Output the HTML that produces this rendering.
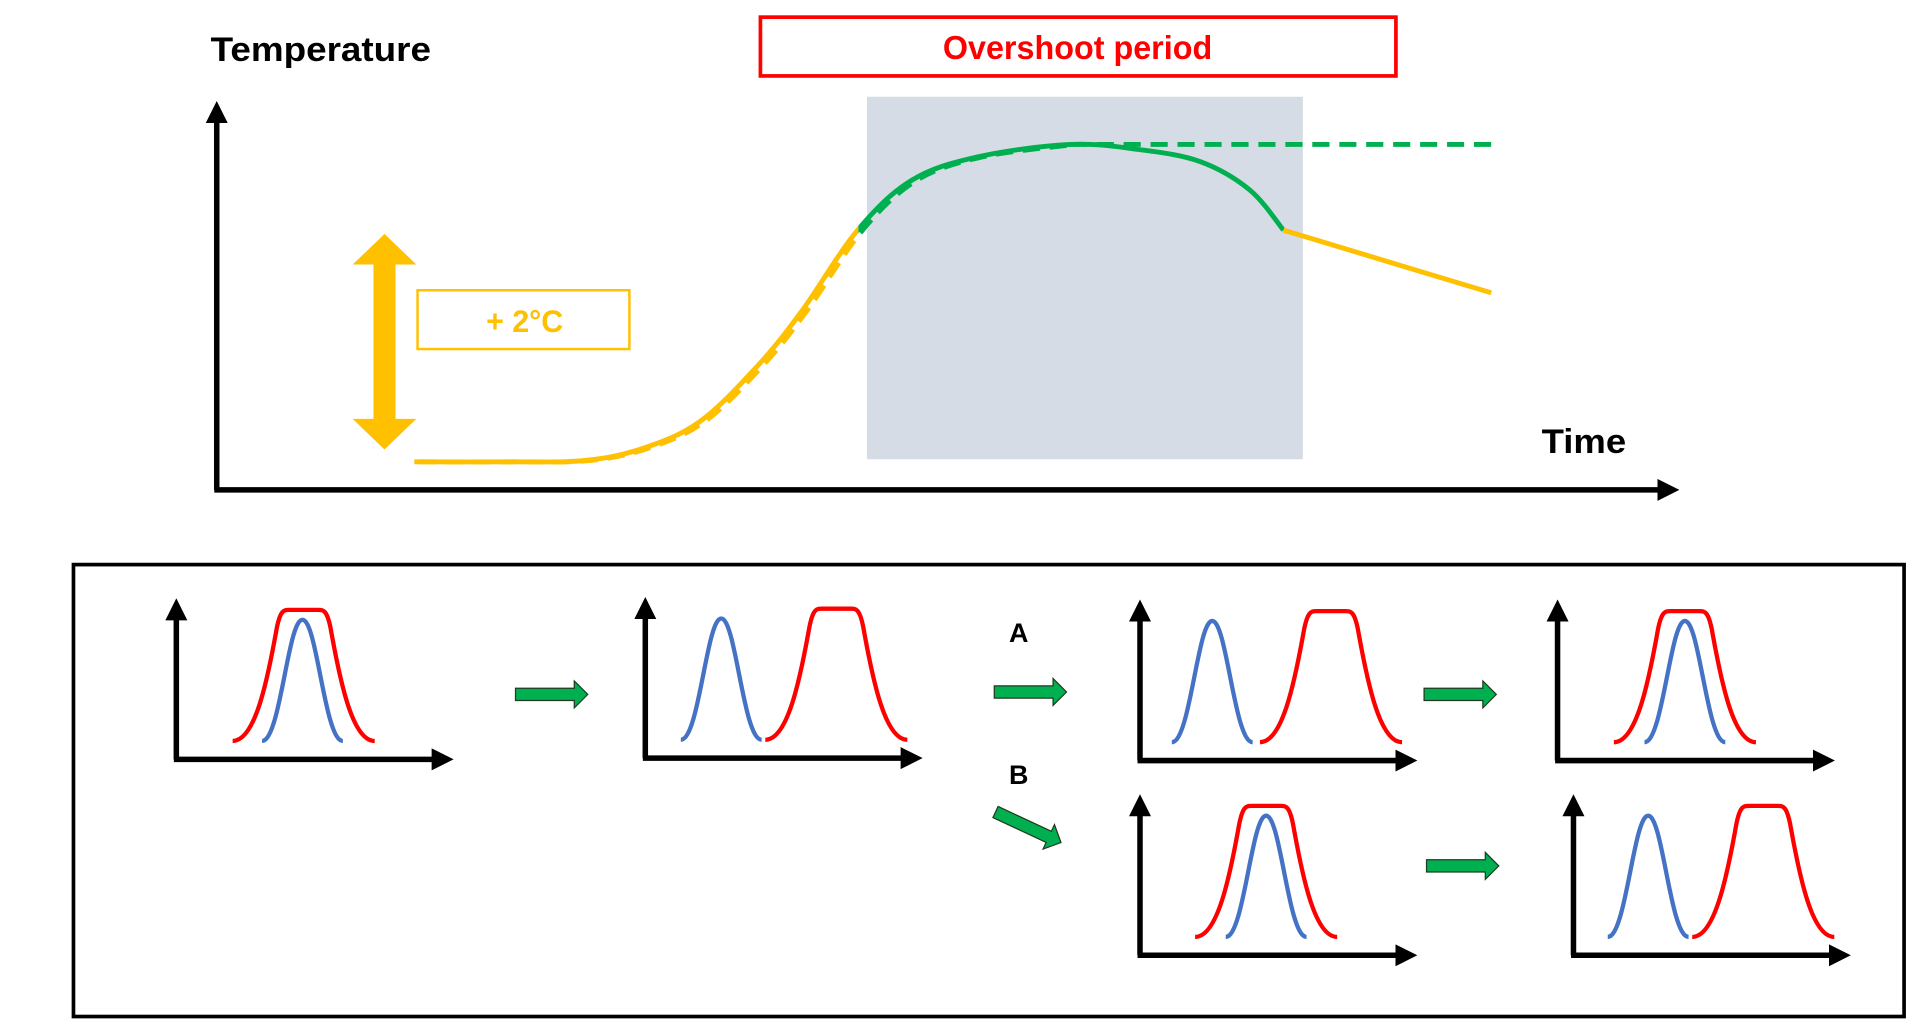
<!DOCTYPE html>
<html><head><meta charset="utf-8">
<style>
html,body{margin:0;padding:0;background:#fff;}
svg{display:block;}
text{font-family:"Liberation Sans",sans-serif;font-weight:bold;}
</style></head>
<body>
<svg id="fig" width="1920" height="1030" viewBox="0 0 1568 841" preserveAspectRatio="none" xmlns="http://www.w3.org/2000/svg">
  <defs>
    <marker id="ah" markerWidth="4" markerHeight="4" refX="1" refY="2" orient="auto" markerUnits="strokeWidth">
      <path d="M0,0 L4,2 L0,4 Z" fill="#000"/>
    </marker>
    <clipPath id="clipL"><rect x="0" y="0" width="701" height="841"/></clipPath>
    <clipPath id="clipR"><rect x="701" y="0" width="900" height="841"/></clipPath>
  </defs>
  <text x="172" y="50" font-size="28" fill="#000" textLength="180" lengthAdjust="spacingAndGlyphs">Temperature</text>
  <rect x="621" y="14" width="519" height="48" fill="#fff" stroke="#ff0000" stroke-width="3"/>
  <text x="770" y="48" font-size="27" fill="#ff0000" textLength="220" lengthAdjust="spacingAndGlyphs">Overshoot period</text>
  <rect x="708" y="79" width="356" height="296" fill="#d6dce5"/>
  <line x1="177" y1="400" x2="177" y2="96" stroke="#000" stroke-width="4.5" marker-end="url(#ah)"/>
  <line x1="175" y1="400" x2="1358" y2="400" stroke="#000" stroke-width="4.5" marker-end="url(#ah)"/>
  <text x="1259" y="370" font-size="28" fill="#000" textLength="69" lengthAdjust="spacingAndGlyphs">Time</text>
  <path d="M314,191 L340,216 L323,216 L323,342 L340,342 L314,367 L288,342 L305,342 L305,216 L288,216 Z" fill="#ffc000"/>
  <rect x="341" y="237" width="173" height="48" fill="#fff" stroke="#ffc000" stroke-width="2"/>
  <text x="397" y="271" font-size="26" fill="#ffc000" textLength="63" lengthAdjust="spacingAndGlyphs">+ 2°C</text>
  <g id="series"></g>
  <rect x="60" y="461" width="1495" height="369" fill="none" stroke="#000" stroke-width="3"/>
  <text x="824" y="524" font-size="22" fill="#000">A</text>
  <text x="824" y="640" font-size="22" fill="#000">B</text>
  <g id="minis"></g>
</svg>
<script>
// Temperature trajectory data (time 0-100, temperature 0-100 arbitrary units)
const overshootTime = [13.5, 20, 25, 29, 33, 37, 40, 43.8, 47.5, 52, 58.3, 63, 67.2, 70.6, 72.9];
const overshootTemp = [7.2, 7.2, 7.5, 10.5, 17.5, 32, 46, 66.7, 79.5, 85.5, 88.7, 87.4, 84.3, 77, 66.7];
const stabilRiseTime = [13.5, 20, 25, 29, 33, 37, 40, 43.8, 47.5, 52, 58.3];
const stabilRiseTemp = [7.2, 7.2, 7.5, 10.5, 17.5, 32, 46, 66.7, 79.5, 85.5, 88.7];
const declineTime = [72.9, 87.1];
const declineTemp = [66.7, 50.6];
const stabilTime = [58.3, 87.7];
const stabilTemp = [88.7, 88.7];

const NS = 'http://www.w3.org/2000/svg';
const xS = t => 177 + t * 11.95;
const yS = v => 400 - v * 3.18;

function smoothPath(ts, vs, dx) {
  const p = ts.map((t, i) => [xS(t) + (dx || 0), yS(vs[i])]);
  let d = 'M' + p[0][0] + ',' + p[0][1];
  for (let i = 0; i < p.length - 1; i++) {
    const p0 = p[i - 1] || p[i], p1 = p[i], p2 = p[i + 1], p3 = p[i + 2] || p2;
    const c1 = [p1[0] + (p2[0] - p0[0]) / 6, p1[1] + (p2[1] - p0[1]) / 6];
    const c2 = [p2[0] - (p3[0] - p1[0]) / 6, p2[1] - (p3[1] - p1[1]) / 6];
    d += ' C' + c1 + ' ' + c2 + ' ' + p2;
  }
  return d;
}
const g = document.getElementById('series');
function addPath(d, color, dash, name, clip) {
  const el = document.createElementNS(NS, 'path');
  el.setAttribute('d', d);
  el.setAttribute('fill', 'none');
  el.setAttribute('stroke', color);
  el.setAttribute('stroke-width', '4');
  if (dash) el.setAttribute('stroke-dasharray', dash);
  if (clip) el.setAttribute('clip-path', 'url(#' + clip + ')');
  
  
  g.appendChild(el);
}
const stabD = smoothPath(stabilRiseTime, stabilRiseTemp, 4);
const overD = smoothPath(overshootTime, overshootTemp, 0);
addPath(stabD, '#ffc000', '14 8', 'stabilisation-rise-dashed', 'clipL');
addPath(stabD, '#00b050', '14 8', 'stabilisation-peak-dashed', 'clipR');
addPath(overD, '#ffc000', null, 'overshoot-rise', 'clipL');
addPath(overD, '#00b050', null, 'overshoot-peak', 'clipR');
addPath(smoothPath(declineTime, declineTemp, 0), '#ffc000', null, 'overshoot-decline');
addPath(smoothPath(stabilTime, stabilTemp, 0), '#00b050', '14 8', 'stabilisation-plateau-dashed');

// Mini distribution panels: origin and peak offsets
const panelX = [144, 527, 931, 1272, 931, 1285];
const panelY = [620, 619, 621, 621, 780, 780];
const redCenter = [104, 156, 156, 104, 103, 155];
const blueCenter = [103, 62, 59, 104, 103, 61];
const m = document.getElementById('minis');
function mk(tag, attrs, name) {
  const el = document.createElementNS(NS, tag);
  for (const k in attrs) el.setAttribute(k, attrs[k]);
  
  
  m.appendChild(el);
  return el;
}
panelX.forEach((ox, i) => {
  const oy = panelY[i];
  mk('line', {x1: ox, y1: oy, x2: ox, y2: oy - 118, stroke: '#000', 'stroke-width': 4.5, 'marker-end': 'url(#ah)'}, 'mini-y-axis');
  mk('line', {x1: ox - 2, y1: oy, x2: ox + 213, y2: oy, stroke: '#000', 'stroke-width': 4.5, 'marker-end': 'url(#ah)'}, 'mini-x-axis');
  const rc = ox + redCenter[i], b = oy - 15, t = oy - 122;
  mk('path', {d: `M${rc-58},${b} C${rc-40},${b} ${rc-30},${t+60} ${rc-22},${t+15} C${rc-19},${t} ${rc-16},${t} ${rc-12},${t} L${rc+12},${t} C${rc+16},${t} ${rc+19},${t} ${rc+22},${t+15} C${rc+30},${t+60} ${rc+40},${b} ${rc+58},${b}`, fill: 'none', stroke: '#ff0000', 'stroke-width': 3.5}, 'mini-red-distribution');
  const bc = ox + blueCenter[i], bt = oy - 114;
  mk('path', {d: `M${bc-33},${b} C${bc-18},${b} ${bc-12},${bt} ${bc},${bt} C${bc+12},${bt} ${bc+18},${b} ${bc+33},${b}`, fill: 'none', stroke: '#4472c4', 'stroke-width': 3.5}, 'mini-blue-distribution');
});
// Green transition arrows
const arrX = [421, 812, 1163, 1165];
const arrY = [567, 565, 567, 707];
arrX.forEach((x, i) => {
  const y = arrY[i];
  mk('path', {d: `M${x},${y-5} L${x+48},${y-5} L${x+48},${y-11} L${x+59},${y} L${x+48},${y+11} L${x+48},${y+5} L${x},${y+5} Z`, fill: '#00b050', stroke: '#1f3a1f', 'stroke-width': 1}, 'transition-arrow');
});
mk('path', {d: 'M0,-5 L48,-5 L48,-11 L59,0 L48,11 L48,5 L0,5 Z', fill: '#00b050', stroke: '#1f3a1f', 'stroke-width': 1, transform: 'translate(813,663) rotate(25)'}, 'transition-arrow-b');
</script>
</body></html>
